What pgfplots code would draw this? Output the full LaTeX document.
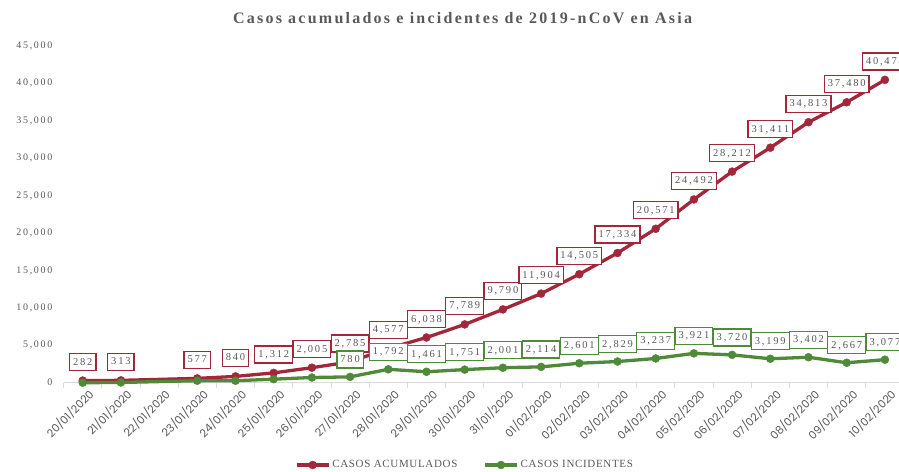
\documentclass[border=0pt]{standalone}
\usepackage{fontspec}
\usepackage{pgfplots}
\usepackage{pgfplotstable}
\pgfplotsset{compat=1.18}
\setmainfont{Liberation Serif}
\newfontfamily\lab{Liberation Serif}[LetterSpace=17]
\newfontfamily\legf{Liberation Serif}[LetterSpace=6]
\newfontfamily\titf{Liberation Serif}[LetterSpace=14]
\newfontfamily\xf{Poppins}
\definecolor{cRed}{HTML}{A3273A}
\definecolor{cGreen}{HTML}{4F8A38}
\definecolor{cText}{HTML}{595959}
\definecolor{cAxis}{HTML}{D9D9D9}

\pgfplotstableread{
x y
0 282
1 313
3 577
4 840
5 1312
6 2005
7 2785
8 4577
9 6038
10 7789
11 9790
12 11904
13 14505
14 17334
15 20571
16 24492
17 28212
18 31411
19 34813
20 37480
21 40474
}\acum

\pgfplotstableread{
x y
0 0
1 31
3 264
4 263
5 472
6 693
7 780
8 1792
9 1461
10 1751
11 2001
12 2114
13 2601
14 2829
15 3237
16 3921
17 3720
18 3199
19 3402
20 2667
21 3077
}\inc

\begin{document}
\begin{tikzpicture}
\useasboundingbox (0,0) rectangle (899pt,471pt);
\begin{axis}[
  at={(63.6pt,88.3pt)}, anchor=south west,
  scale only axis, width=840.4pt, height=336.7pt,
  xmin=-0.5, xmax=21.5, ymin=0, ymax=45000,
  clip=false,
  axis x line*=bottom, axis y line*=left,
  x axis line style={draw=cAxis, line width=1pt, -},
  y axis line style={draw=none},
  xtick={0,...,21},
  xticklabels={20/01/2020,21/01/2020,22/01/2020,23/01/2020,24/01/2020,25/01/2020,26/01/2020,27/01/2020,28/01/2020,29/01/2020,30/01/2020,31/01/2020,01/02/2020,02/02/2020,03/02/2020,04/02/2020,05/02/2020,06/02/2020,07/02/2020,08/02/2020,09/02/2020,10/02/2020},
  minor xtick={-0.5,0.5,...,21.5},
  ytick={0,5000,...,45000},
  scaled y ticks=false,
  major tick length=0pt, minor tick length=5pt, tick align=outside,
  minor tick style={draw=cAxis, line width=1pt},
  /pgf/number format/.cd, fixed, precision=0, 1000 sep={,}, assume math mode=true,
  /pgfplots/.cd,
  yticklabel style={font=\lab\fontsize{10}{12}\selectfont, text=cText, inner sep=0pt, xshift=-11pt},
  xticklabel style={font=\xf\fontsize{11}{13}\selectfont, text=cText, rotate=45, anchor=east, inner sep=0pt, yshift=-13pt, xshift=-0.5pt},
  title={Casos acumulados e incidentes de 2019-nCoV en Asia},
  title style={font=\titf\bfseries\fontsize{16}{18}\selectfont, text=cText, at={(axis description cs:0.4747,1.0624)}, anchor=base, yshift=-5pt},
  legend columns=2,
  legend style={draw=none, fill=none, at={(0.4776,-0.2444)}, anchor=center,
    font=\legf\fontsize{11}{13}\selectfont, text=cText,
    /tikz/every even column/.append style={column sep=24pt}},
  legend image code/.code={\draw[mark repeat=2,mark phase=2,#1] plot coordinates {(0pt,0pt) (16pt,0pt) (32pt,0pt)};},
]
\addplot[cRed, line width=3.3pt, line join=round, mark=*, mark size=4pt, mark options={fill=cRed, draw=cRed, line width=0.4pt}] table {\acum};
\addlegendentry{CASOS ACUMULADOS}
\addplot[cGreen, line width=3.3pt, line join=round, mark=*, mark size=4pt, mark options={fill=cGreen, draw=cGreen, line width=0.4pt}] table {\inc};
\addlegendentry{CASOS INCIDENTES}
\addplot[draw=none, mark=none, forget plot, nodes near coords,
  every node near coord/.style={draw=cRed, fill=white, line width=1.3pt, text=cText, font=\lab\fontsize{10.5}{12}\selectfont, inner xsep=3.5pt, inner ysep=4pt, text height=7.5pt, text depth=1.5pt, anchor=center, yshift=18.5pt}] table {\acum};
\addplot[draw=none, mark=none, forget plot, restrict x to domain=7:21, nodes near coords,
  every node near coord/.style={draw=cGreen, fill=white, line width=1.3pt, text=cText, font=\lab\fontsize{10.5}{12}\selectfont, inner xsep=3.5pt, inner ysep=4pt, text height=7.5pt, text depth=1.5pt, anchor=center, yshift=17.5pt}] table {\inc};
\end{axis}
\end{tikzpicture}
\end{document}
